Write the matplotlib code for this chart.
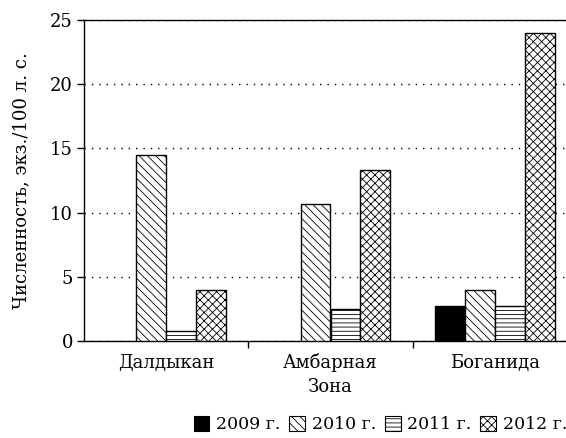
import numpy as np
import matplotlib
matplotlib.use("Agg")
import matplotlib.pyplot as plt
from matplotlib.patches import Patch

zones = ["Далдыкан", "Амбарная", "Боганида"]
years = ["2009 г.", "2010 г.", "2011 г.", "2012 г."]
v2009 = [0.0, 0.0, 2.7]
v2010 = [14.5, 10.7, 4.0]
v2011 = [0.8, 2.5, 2.7]
v2012 = [4.0, 13.3, 24.0]
series = [v2009, v2010, v2011, v2012]

plt.rcParams["font.family"] = ["DejaVu Serif"]
plt.rcParams["hatch.linewidth"] = 0.6
styles = [dict(facecolor="black", hatch=None),
          dict(facecolor="white", hatch="\\\\\\\\"),
          dict(facecolor="white", hatch="----"),
          dict(facecolor="white", hatch="xxxx")]

fig = plt.figure(figsize=(5.66, 4.38), dpi=100)
ax = fig.add_axes([84 / 566, 97 / 438, 493 / 566, 321 / 438])

x = np.arange(len(zones))
w = 0.182
for i, (vals, st) in enumerate(zip(series, styles)):
    h = [v if v > 0 else np.nan for v in vals]   # no bar where the year has no record
    ax.bar(x + (i - 1.5) * w, h, w, edgecolor="black", linewidth=1.0, zorder=3, **st)

ax.set_xlim(-0.5, 2.5)
ax.set_ylim(0, 25)
ax.set_yticks(range(0, 26, 5))
ax.set_xticks(x)
ax.set_xticklabels(zones, fontsize=13)
ax.set_xticks([0.5, 1.5], minor=True)
ax.tick_params(axis="x", which="major", length=0, pad=9)
ax.tick_params(axis="x", which="minor", length=5, width=1.0, direction="out")
ax.tick_params(axis="y", length=5, width=1.0, labelsize=13, pad=3)
for s in ax.spines.values():
    s.set_linewidth(1.0)
ax.yaxis.grid(True, color="black", linestyle=(0, (1, 4.3)), linewidth=1.0, zorder=1)
ax.set_axisbelow(True)
ax.set_xlabel("Зона", fontsize=13, labelpad=4)
ax.set_ylabel("Численность, экз./100 л. с.", fontsize=13, labelpad=14)

handles = [Patch(edgecolor="black", linewidth=0.8, **st) for st in styles]
fig.legend(handles, years, loc="lower right", bbox_to_anchor=(1.03, -0.025), ncol=4,
           frameon=False, fontsize=12.5, handlelength=0.9, handleheight=0.9,
           handletextpad=0.4, columnspacing=0.5)

fig.savefig("out.png", dpi=100)
